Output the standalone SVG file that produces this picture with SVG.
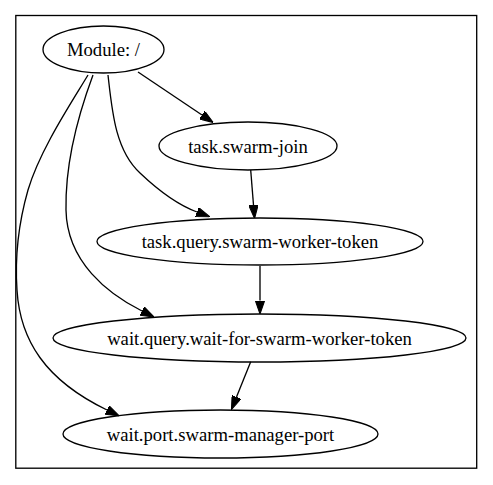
<svg xmlns="http://www.w3.org/2000/svg" width="493" height="485" viewBox="0 0 493 485">
<style>
.node ellipse{fill:none;stroke:#000;stroke-width:1.33}
.node text{font-family:"Liberation Serif","Times New Roman",serif;font-size:18.67px;fill:#000;text-anchor:middle}
.edge path{fill:none;stroke:#000;stroke-width:1.33}
.frame{fill:#fff;stroke:#000;stroke-width:1.33}
</style>
<defs>
<marker id="ah" viewBox="0 0 10 7" refX="0" refY="3.5" markerWidth="13.5" markerHeight="9.5" markerUnits="userSpaceOnUse" orient="auto">
<path d="M0,0 L10,3.5 L0,7 Z" fill="#000" stroke="#000" stroke-width="0.8"/>
</marker>
</defs>
<rect width="493" height="485" fill="#fff"/>
<rect class="frame" x="15.8" y="15.5" width="460.9" height="452.7"/>
<g id="edges" class="edge">
<path d="M138,72 L202,115" marker-end="url(#ah)"/>
<path d="M108,75 C112,110 115,150 140,173 C160,192 178,205 197,212" marker-end="url(#ah)"/>
<path d="M93,75 C80,110 65,160 66,210 C67,262 108,294 142,311" marker-end="url(#ah)"/>
<path d="M88,75 C70,105 40,150 28,190 C18,225 15,260 17,290 C20,340 45,380 107,410" marker-end="url(#ah)"/>
<path d="M250.7,170 L253.5,205" marker-end="url(#ah)"/>
<path d="M260,266 L260,300.5" marker-end="url(#ah)"/>
<path d="M250.7,361.7 L236.5,397" marker-end="url(#ah)"/>
</g>
<g id="module" class="node">
<ellipse cx="103.5" cy="49.5" rx="60.5" ry="23.5"/>
<text x="103.5" y="56">Module: /</text>
</g>
<g id="task-swarm-join" class="node">
<ellipse cx="248" cy="146" rx="89" ry="24"/>
<text x="248" y="152.5">task.swarm-join</text>
</g>
<g id="task-query-swarm-worker-token" class="node">
<ellipse cx="260" cy="241.5" rx="163" ry="23.5"/>
<text x="260" y="248">task.query.swarm-worker-token</text>
</g>
<g id="wait-query-wait-for-swarm-worker-token" class="node">
<ellipse cx="259.5" cy="338" rx="206.5" ry="24"/>
<text x="259.5" y="344.5">wait.query.wait-for-swarm-worker-token</text>
</g>
<g id="wait-port-swarm-manager-port" class="node">
<ellipse cx="220.5" cy="434" rx="157.5" ry="24"/>
<text x="220.5" y="440.5">wait.port.swarm-manager-port</text>
</g>
</svg>
